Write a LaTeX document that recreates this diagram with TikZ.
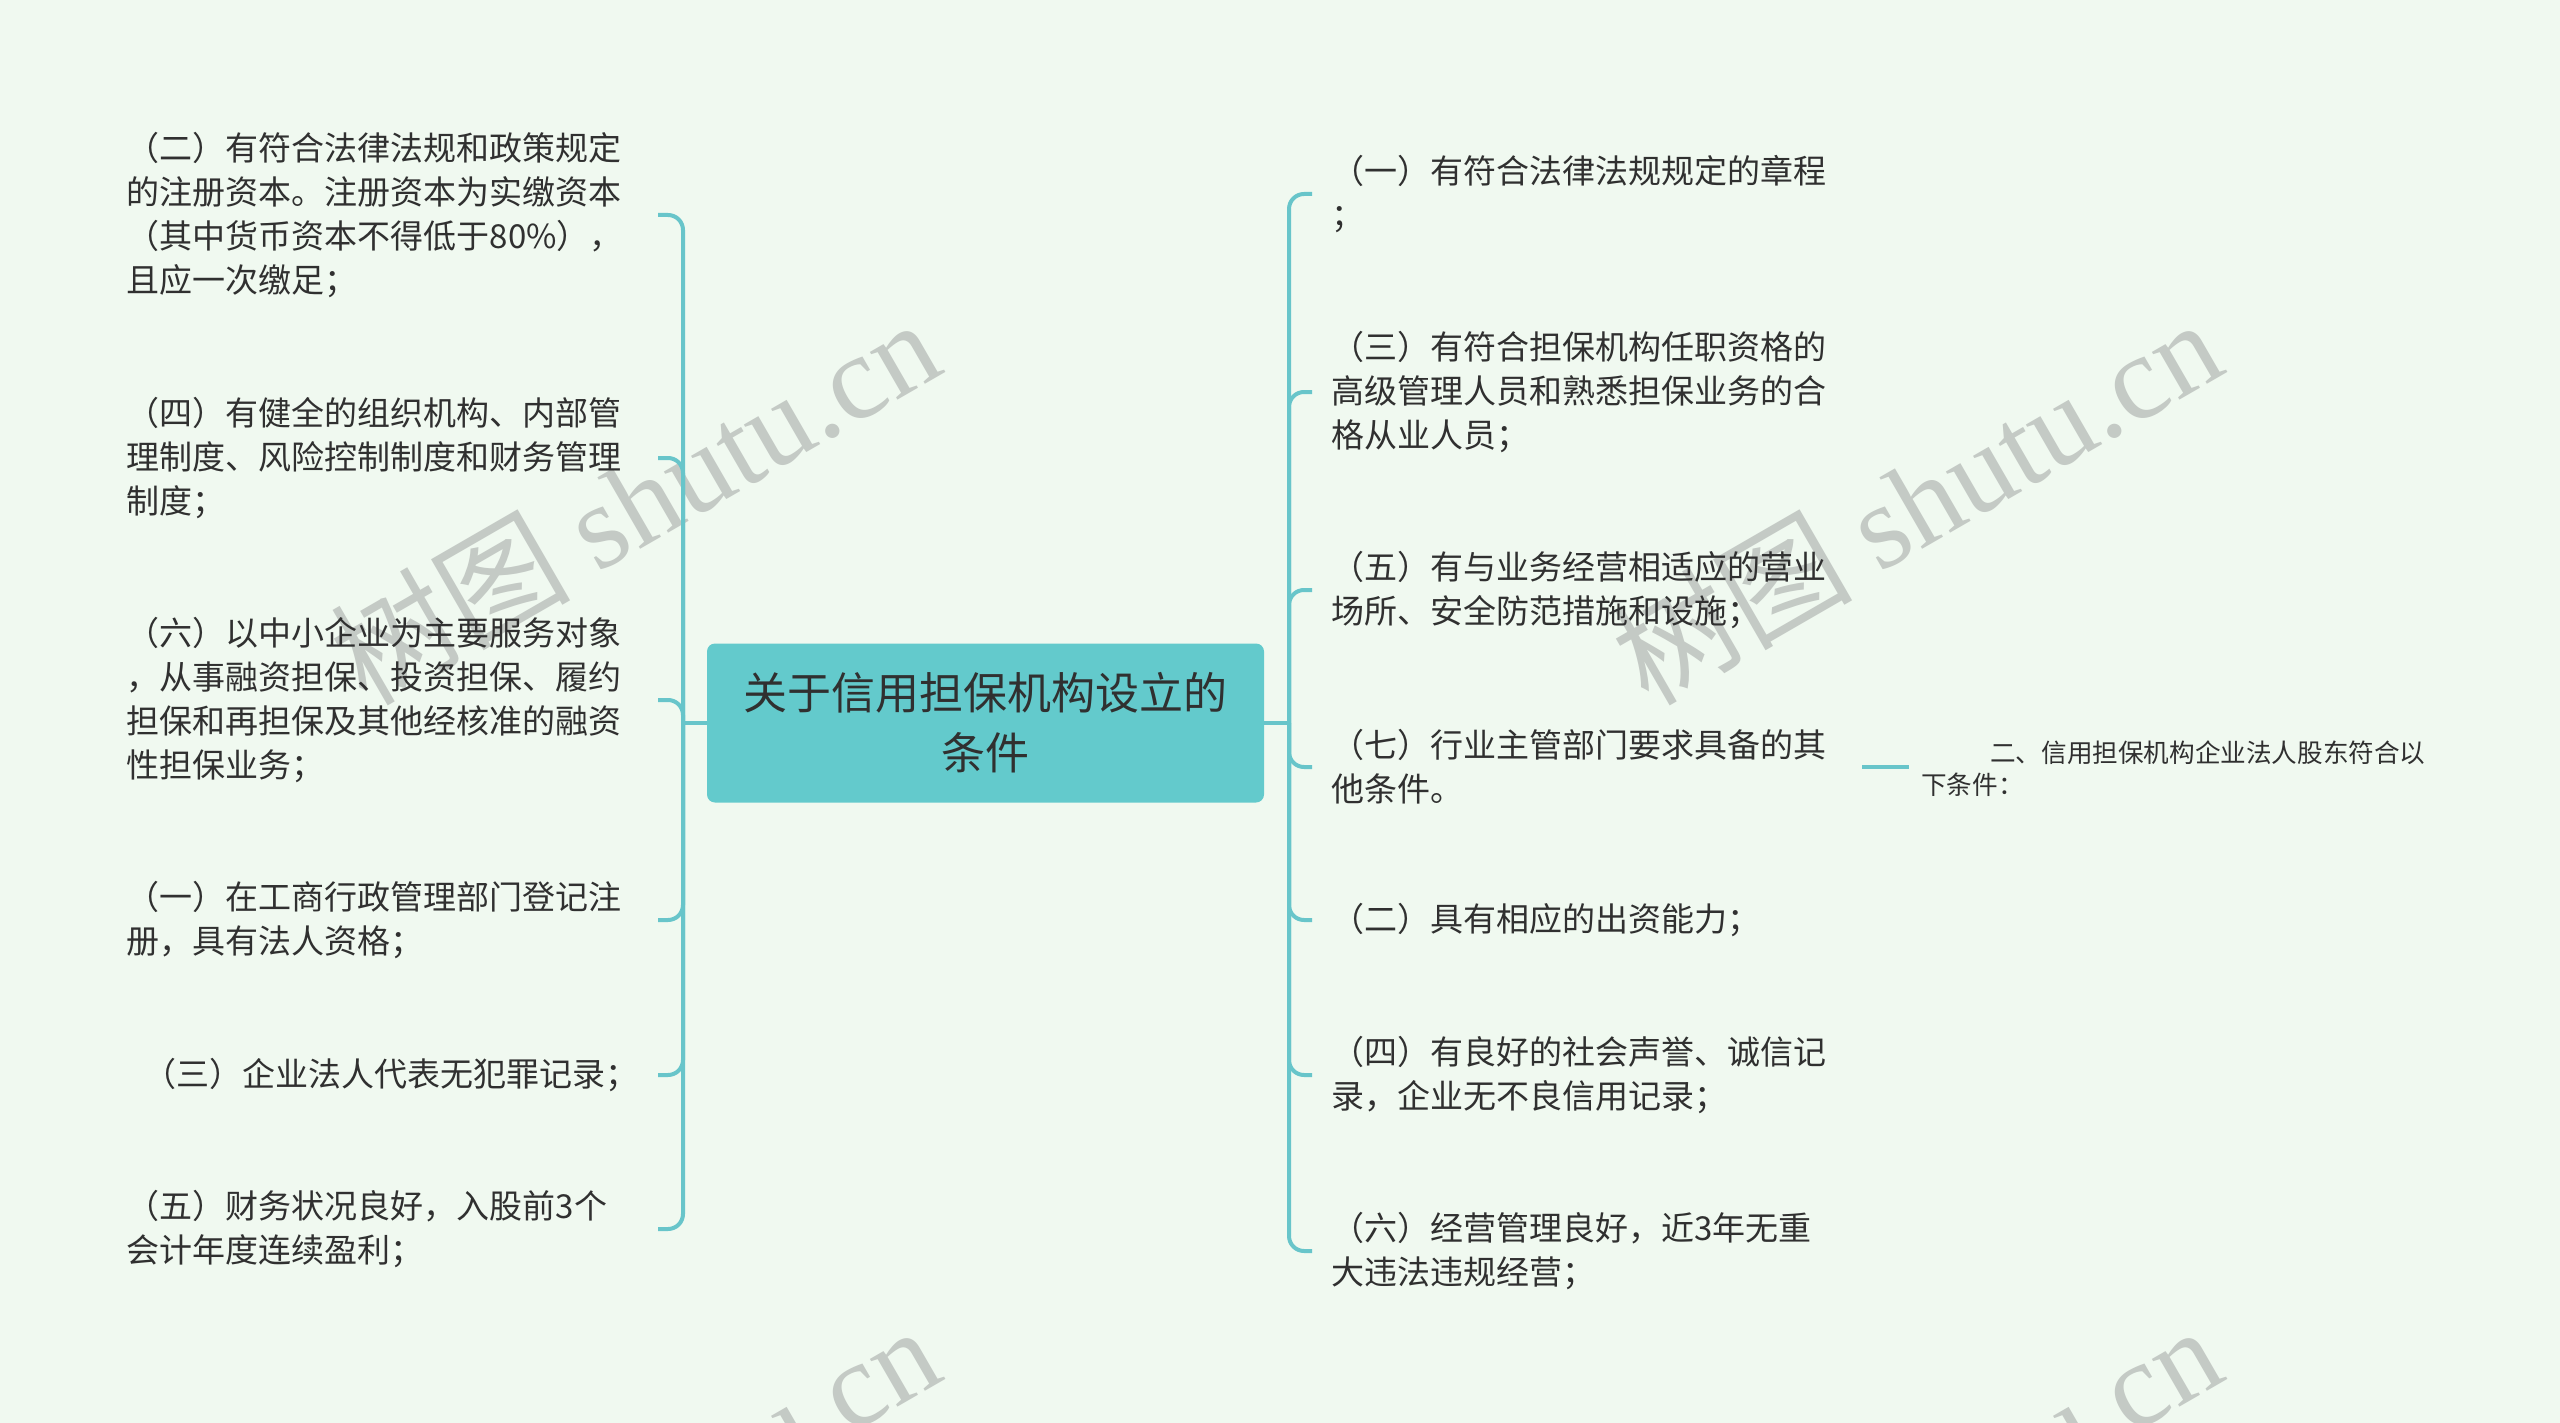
\documentclass[tikz,border=0pt]{standalone}
\usepackage{fontspec}
\setmainfont{Noto Sans CJK SC}
\newfontfamily\markfont{Liberation Serif}
\usepackage{xcolor}
\definecolor{paper}{RGB}{240, 249, 240}
\definecolor{tealbox}{RGB}{99, 202, 204}
\definecolor{tealline}{RGB}{104, 197, 202}
\definecolor{ink}{RGB}{48, 48, 48}
\definecolor{markgray}{RGB}{196, 202, 197}
\usetikzlibrary{positioning, calc}

\begin{document}
\begin{tikzpicture}[x=1pt, y=-1pt,
    leaf/.style={text width=495pt, align=left, inner ysep=0pt, text=ink, font=\fontsize{33}{44}\selectfont},
    lleaf/.style={leaf, anchor=east, inner xsep=36pt},
    rleaf/.style={leaf, anchor=west, inner xsep=19pt},
    hub/.style={fill=tealbox, rounded corners=8pt, minimum width=557pt, minimum height=159pt,
        align=center, text=ink, font=\fontsize{44}{60}\selectfont},
    branch/.style={draw=tealline, line width=4pt, rounded corners=15pt},
    wmark/.style={text=markgray, rotate=30, font=\fontsize{120}{120}\selectfont}]

    \useasboundingbox (0, 0) rectangle (2560, 1423);
    \fill[paper] (0, 0) rectangle (2560, 1423);

    % watermark
    \begin{scope}
        \clip (0, 0) rectangle (2560, 1423);
        \node[wmark] (wm1) at (634, 500) {树图 {\markfont shutu.cn}};
        \node[wmark] (wm2) at (1916, 500) {树图 {\markfont shutu.cn}};
        \node[wmark] (wm3) at (634, 1507) {树图 {\markfont shutu.cn}};
        \node[wmark] (wm4) at (1916, 1507) {树图 {\markfont shutu.cn}};
    \end{scope}

    \node[hub] (root) at (985.5, 723) {关于信用担保机构设立的\\条件};
    \coordinate (lhub) at (683, 723);
    \coordinate (rhub) at (1289, 723);

    % left side
    \node[lleaf] (l1) at (658, 215) {（二）有符合法律法规和政策规定\\的注册资本。注册资本为实缴资本\\（其中货币资本不得低于80\%），\\且应一次缴足；};
    \node[lleaf] (l2) at (658, 458) {（四）有健全的组织机构、内部管\\理制度、风险控制制度和财务管理\\制度；};
    \node[lleaf] (l3) at (658, 700) {（六）以中小企业为主要服务对象\\，从事融资担保、投资担保、履约\\担保和再担保及其他经核准的融资\\性担保业务；};
    \node[lleaf] (l4) at (658, 920) {（一）在工商行政管理部门登记注\\册，具有法人资格；};
    \node[lleaf] (l5) at (658, 1075) {\hspace*{0.5em}（三）企业法人代表无犯罪记录；};
    \node[lleaf] (l6) at (658, 1229) {（五）财务状况良好，入股前3个\\会计年度连续盈利；};

    % right side
    \node[rleaf] (r1) at (1312, 194) {（一）有符合法律法规规定的章程\\；};
    \node[rleaf] (r2) at (1312, 392) {（三）有符合担保机构任职资格的\\高级管理人员和熟悉担保业务的合\\格从业人员；};
    \node[rleaf] (r3) at (1312, 590) {（五）有与业务经营相适应的营业\\场所、安全防范措施和设施；};
    \node[rleaf] (r4) at (1312, 767) {（七）行业主管部门要求具备的其\\他条件。};
    \node[rleaf] (r5) at (1312, 920) {（二）具有相应的出资能力；};
    \node[rleaf] (r6) at (1312, 1075) {（四）有良好的社会声誉、诚信记\\录，企业无不良信用记录；};
    \node[rleaf] (r7) at (1312, 1251) {（六）经营管理良好，近3年无重\\大违法违规经营；};

    \node[anchor=west, inner xsep=12pt, align=left, text=ink, font=\fontsize{25.6}{32}\selectfont]
        (rr) at (1909, 769) {\hspace*{69pt}二、信用担保机构企业法人股东符合以\\下条件：};

    \draw[branch] (root.west) -- (lhub);
    \draw[branch] (root.east) -- (rhub);
    \foreach \n in {l1, l2, l3, l4, l5, l6}
        \draw[branch] (lhub) |- (\n.east);
    \foreach \n in {r1, r2, r3, r4, r5, r6, r7}
        \draw[branch] (rhub) |- (\n.west);
    \draw[branch] ([xshift=17pt]r4.east) -- (rr.west |- r4.east);
\end{tikzpicture}
\end{document}
